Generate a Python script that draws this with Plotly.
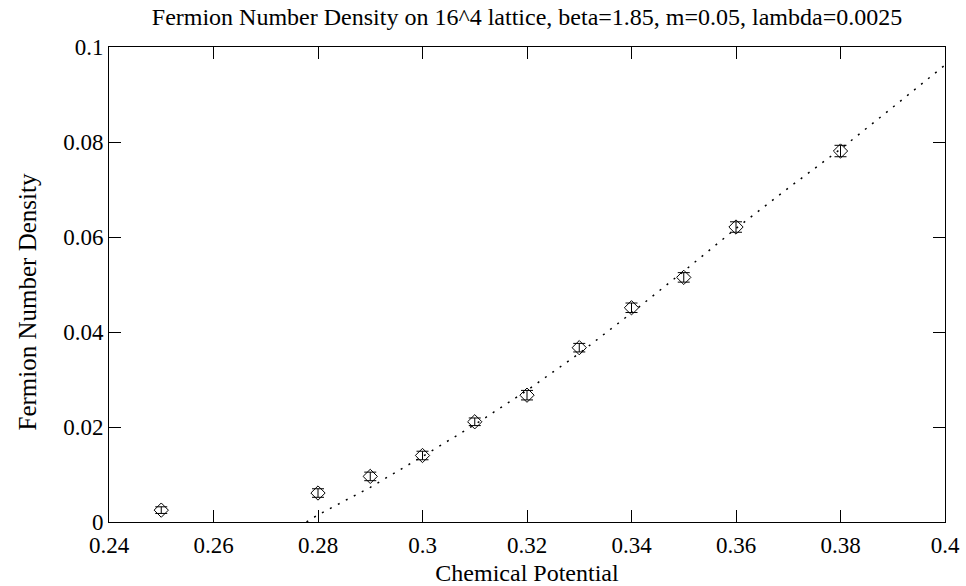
import plotly.graph_objects as go

# Measured fermion number density vs chemical potential
mu = [0.25, 0.28, 0.29, 0.30, 0.31, 0.32, 0.33, 0.34, 0.35, 0.36, 0.38]
density = [0.0025, 0.0061, 0.0096, 0.0140, 0.0211, 0.0267, 0.0367, 0.0451, 0.0515, 0.0621, 0.0781]
density_err = [0.0007, 0.0009, 0.0009, 0.0009, 0.0008, 0.0010, 0.0009, 0.0010, 0.0010, 0.0011, 0.0012]

# Fit curve (dotted)
fit_mu = [0.2778, 0.28, 0.29, 0.30, 0.31, 0.32, 0.33, 0.34, 0.35, 0.36, 0.37, 0.38, 0.39, 0.40]
fit_density = [0.0, 0.0015, 0.0073, 0.0138, 0.0205, 0.0277, 0.0355, 0.0440, 0.0528, 0.0618, 0.0703, 0.0785, 0.0873, 0.0962]

x_ticks = [0.24, 0.26, 0.28, 0.30, 0.32, 0.34, 0.36, 0.38, 0.40]
x_tick_text = ["0.24", "0.26", "0.28", "0.3", "0.32", "0.34", "0.36", "0.38", "0.4"]
y_ticks = [0.0, 0.02, 0.04, 0.06, 0.08, 0.10]
y_tick_text = ["0", "0.02", "0.04", "0.06", "0.08", "0.1"]

FONT = "Liberation Serif, Times New Roman, serif"
FS = 23

fig = go.Figure()

fig.add_trace(go.Scatter(
    x=fit_mu, y=fit_density, mode="lines",
    line=dict(color="black", width=1.5, dash="2px,7px"),
    hoverinfo="skip", showlegend=False,
))

fig.add_trace(go.Scatter(
    x=mu, y=density, mode="markers",
    marker=dict(symbol="diamond-open", size=11, color="black", line=dict(width=1, color="black")),
    error_y=dict(type="data", array=density_err, visible=True, color="black", thickness=1, width=6),
    showlegend=False,
))

axis_common = dict(
    showline=True, linecolor="black", linewidth=1, mirror="allticks",
    ticks="inside", ticklen=12, tickwidth=1, tickcolor="black",
    showgrid=False, zeroline=False, automargin=False,
    tickfont=dict(family=FONT, size=FS, color="black"),
)

fig.update_layout(
    width=966, height=586,
    margin=dict(l=109, r=21, t=47, b=64),
    paper_bgcolor="white", plot_bgcolor="white",
    title=dict(
        text="Fermion Number Density on 16^4 lattice, beta=1.85, m=0.05, lambda=0.0025",
        x=0.5, xref="paper", xanchor="center", y=0.971, yanchor="middle",
        font=dict(family=FONT, size=FS + 1, color="black"),
    ),
    xaxis=dict(
        range=[0.24, 0.40], tickvals=x_ticks, ticktext=x_tick_text,
        ticklabelstandoff=2,
        title=dict(text="Chemical Potential", font=dict(family=FONT, size=FS + 1, color="black"), standoff=10),
        **axis_common,
    ),
    yaxis=dict(
        range=[0.0, 0.10], tickvals=y_ticks, ticktext=y_tick_text,
        **axis_common,
    ),
    annotations=[dict(
        text="Fermion Number Density", textangle=-90,
        xref="paper", yref="paper", x=-0.097, y=0.464,
        xanchor="center", yanchor="middle", showarrow=False,
        font=dict(family=FONT, size=FS + 2, color="black"),
    )],
)

fig.write_html("out.html")
